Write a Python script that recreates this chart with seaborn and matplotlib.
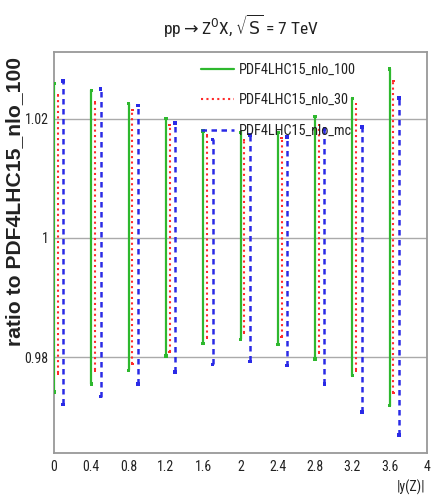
import matplotlib
matplotlib.use("Agg")
import numpy as np
import pandas as pd
import seaborn as sns
import matplotlib.pyplot as plt
from matplotlib import font_manager
from matplotlib.lines import Line2D

# |y(Z)| bin lower edges
bins = [0.0, 0.4, 0.8, 1.2, 1.6, 2.0, 2.4, 2.8, 3.2, 3.6]

# upper / lower edges of the uncertainty bands, ratio to PDF4LHC15_nlo_100
nlo100_hi = [1.0259, 1.0247, 1.0225, 1.0200, 1.0179, 1.0177, 1.0177, 1.0203, 1.0234, 1.0283]
nlo100_lo = [0.9742, 0.9755, 0.9778, 0.9802, 0.9823, 0.9830, 0.9821, 0.9797, 0.9769, 0.9719]
nlo30_hi = [1.0239, 1.0228, 1.0214, 1.0189, 1.0172, 1.0164, 1.0167, 1.0189, 1.0224, 1.0263]
nlo30_lo = [0.9773, 0.9778, 0.9789, 0.9809, 0.9832, 0.9841, 0.9834, 0.9807, 0.9778, 0.9740]
nlomc_hi = [1.0263, 1.0250, 1.0222, 1.0193, 1.0165, 1.0172, 1.0169, 1.0182, 1.0186, 1.0234]
nlomc_lo = [0.9721, 0.9734, 0.9755, 0.9775, 0.9788, 0.9793, 0.9786, 0.9755, 0.9708, 0.9670]

series_names = ["PDF4LHC15_nlo_100", "PDF4LHC15_nlo_30", "PDF4LHC15_nlo_mc"]
yticks = [0.98, 1.0, 1.02]
ytick_labels = ["0.98", "1", "1.02"]
xticks = [0.0, 0.4, 0.8, 1.2, 1.6, 2.0, 2.4, 2.8, 3.2, 3.6, 4.0]
xtick_labels = ["0", "0.4", "0.8", "1.2", "1.6", "2", "2.4", "2.8", "3.2", "3.6", "4"]

sns.set_theme(style="white")
available = {f.name for f in font_manager.fontManager.ttflist}
narrow = [n for n in ("Liberation Sans Narrow", "Roboto Condensed", "Open Sans Condensed")
          if n in available]
plt.rcParams["font.family"] = narrow + ["Liberation Sans", "DejaVu Sans"]
plt.rcParams["axes.unicode_minus"] = False

colors = {series_names[0]: "#2eb82e", series_names[1]: "#ff2a2a", series_names[2]: "#2a2ae6"}
widths = {series_names[0]: 1.6, series_names[1]: 1.5, series_names[2]: 1.8}
dashes = {series_names[0]: "", series_names[1]: (1.0, 1.6), series_names[2]: (2.2, 1.8)}
shift = {series_names[0]: 0.0, series_names[1]: 0.04, series_names[2]: 0.10}

rows = []
for name, hi, lo in zip(series_names, (nlo100_hi, nlo30_hi, nlomc_hi), (nlo100_lo, nlo30_lo, nlomc_lo)):
    for i, (x, h, l) in enumerate(zip(bins, hi, lo)):
        for v in (l, h):
            rows.append({"series": name, "seg": f"{name}-{i}", "x": x + shift[name], "v": v})
df = pd.DataFrame(rows)

W, H = 434, 497
fig = plt.figure(figsize=(W / 100, H / 100), dpi=100)
fig.patch.set_facecolor("white")
x0, x1, ytop, ybot = 54, 427, 51.7, 453.3
ax = fig.add_axes([x0 / W, 1 - ybot / H, (x1 - x0) / W, (ybot - ytop) / H])

for yv in yticks:
    ax.axhline(yv, color="#aaaaaa", lw=1.0, zorder=0)

sns.lineplot(data=df, x="x", y="v", hue="series", style="series", size="series",
             units="seg", estimator=None, sort=False, palette=colors, dashes=dashes,
             sizes=widths, legend=False, ax=ax, zorder=3)
sns.scatterplot(data=df, x="x", y="v", hue="series", size="series", palette=colors,
                sizes={series_names[0]: 6, series_names[1]: 3, series_names[2]: 7},
                marker="s", linewidth=0, legend=False, ax=ax, zorder=4)

ax.set_xlim(0, 4)
ax.set_ylim(0.9639, 1.0312)
ax.set_xticks(xticks)
ax.set_xticklabels(xtick_labels)
ax.set_yticks(yticks)
ax.set_yticklabels(ytick_labels)
ax.set_xlabel("")
ax.set_ylabel("")
ax.tick_params(axis="both", direction="in", length=7, width=1.2, color="#999999",
               labelsize=10, labelcolor="#222222")
ax.tick_params(axis="x", pad=5)
ax.tick_params(axis="y", pad=4)
for s in ax.spines.values():
    s.set_color("#999999")
    s.set_linewidth(1.3)

handles = [Line2D([], [], color=colors[n], lw=widths[n],
                  dashes=dashes[n] if dashes[n] else (None, None)) for n in series_names]
handles[0].set_linestyle("-")
leg = ax.legend(handles, series_names, loc="upper left",
                bbox_to_anchor=((195 - x0) / (x1 - x0), 1 - (57 - ytop) / (ybot - ytop)),
                frameon=False, fontsize=10.3, handlelength=2.3, handletextpad=0.4,
                labelspacing=1.15, borderaxespad=0)
for t in leg.get_texts():
    t.set_color("#222222")

fig.text(240.5 / W, 1 - 26 / H, r"pp$\rightarrow$Z$^{0}$X, $\sqrt{\mathrm{S}}$ = 7 TeV",
         ha="center", va="center", fontsize=12.5, color="#222222")
fig.text(15 / W, 1 - 57 / H, "ratio to PDF4LHC15_nlo_100", rotation=90, ha="center",
         va="top", fontsize=15.2, fontweight="bold", color="#222222",
         family=["Liberation Sans", "DejaVu Sans"])
fig.text(425 / W, 1 - 487 / H, "|y(Z)|", ha="right", va="center", fontsize=10,
         color="#222222")

fig.savefig("out.png", dpi=100)
